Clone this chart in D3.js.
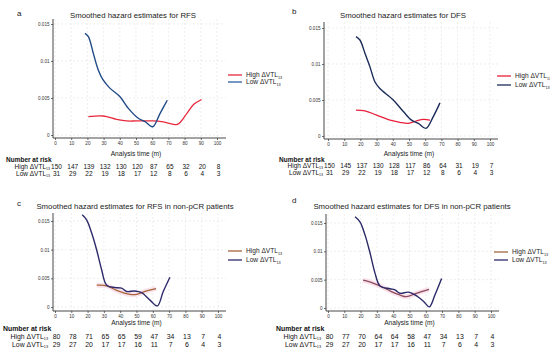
<!DOCTYPE html>
<html>
<head>
<meta charset="utf-8">
<script src="https://cdn.jsdelivr.net/npm/d3@7"></script>
<style>
  body { margin: 0; background: #fff; }
  svg { display: block; font-family: "Liberation Sans", Arial, sans-serif; }
</style>
</head>
<body>
<svg id="chart" width="550" height="352"></svg>
<script>
// tick values shared by all four panels
var xTicks = [0, 10, 20, 30, 40, 50, 60, 70, 80, 90, 100];
var yTicks = [0, 0.005, 0.01, 0.015];
var yTickLabels = ["0", "0.005", "0.01", "0.015"];

// smoothed hazard curves, [time (m), hazard]
var rfsHigh = [[20.6,0.00247],[29.8,0.00257],[38,0.00212],[44.2,0.0019],[50.4,0.0019],[60.7,0.0019],
  [66.9,0.00176],[75.5,0.00144],[81.3,0.0029],[85.4,0.0041],[90.5,0.0048]];
var rfsLow = [[18.5,0.01374],[20.6,0.0133],[23.7,0.011],[26.7,0.0088],[29.8,0.0074],[34,0.0063],
  [40,0.0052],[45.3,0.0036],[51.4,0.00226],[55.6,0.0018],[60.3,0.00112],[64.8,0.0029],[69.3,0.0047]];

var dfsHigh = [[17.3,0.0036],[22.8,0.0035],[30,0.0029],[38.3,0.0022],[44.4,0.0019],[49.6,0.00176],
  [54.7,0.0021],[58.8,0.0023],[63,0.0022]];
var dfsLow = [[17.3,0.0138],[19.8,0.0133],[22.8,0.0115],[25.9,0.0096],[29,0.0075],[32,0.0066],
  [40.3,0.005],[46.5,0.0034],[51.6,0.0022],[55.8,0.00176],[60.5,0.00106],[65,0.0027],[69.1,0.0046]];

var rfsNpHigh = [[25.6,0.0038],[31.7,0.0037],[37.8,0.0029],[46,0.0022],[50.1,0.0022],[56.3,0.0028],[62,0.0032]];
var rfsNpLow = [[16.7,0.0161],[19.4,0.0152],[22.5,0.0129],[25.6,0.0099],[28.6,0.0065],[31.7,0.0038],
  [36.8,0.0034],[40.9,0.0033],[44,0.0027],[49,0.0028],[53.2,0.0025],[58.3,0.0012],[62.8,0.0002],
  [66.4,0.0027],[70.5,0.0052]];

var dfsNpHigh = [[21.5,0.0049],[27.6,0.0044],[32.7,0.0038],[38.9,0.0029],[44,0.0023],[48.1,0.002],
  [54.2,0.0026],[62,0.0033]];
var dfsNpLow = [[16.6,0.0161],[19.6,0.0152],[22.7,0.0129],[25.8,0.0097],[28.8,0.0062],[31.9,0.0039],
  [38,0.0034],[41.1,0.0032],[44.2,0.0026],[49.3,0.0028],[53.4,0.0023],[58.5,0.0012],[62.2,0.0002],
  [65.6,0.0023],[69.7,0.0052]];

// number at risk at each x tick
var rfsRiskHigh = [150,147,139,132,130,120,87,65,32,20,8];
var rfsRiskLow = [31,29,22,19,18,17,12,8,6,4,3];
var dfsRiskHigh = [150,145,137,130,128,117,86,64,31,19,7];
var dfsRiskLow = [31,29,22,19,18,17,12,8,6,4,3];
var rfsNpRiskHigh = [80,78,71,65,65,59,47,34,13,7,4];
var rfsNpRiskLow = [29,27,20,17,17,16,11,7,6,4,3];
var dfsNpRiskHigh = [80,77,70,64,64,58,47,34,13,7,4];
var dfsNpRiskLow = [29,27,20,17,17,16,11,7,6,4,3];

var svg = d3.select("#chart");

var panels = [
  {label: "a", title: "Smoothed hazard estimates for RFS", high: rfsHigh, low: rfsLow,
   riskHigh: rfsRiskHigh, riskLow: rfsRiskLow,
   hiCol: "#e8283c", loCol: "#1f4a86", legLo: "#2d5fa3", band: false,
   xr: [55, 217], yr: [135, 24], left: 53, bottom: 138, right: 226, top: 19,
   labelPos: [17, 16], titleX: 133, titleY: 18, legX: 228, legY: [75, 82],
   axisTitleY: 156, riskY: [162, 168.5, 175.5], riskLabelX: 50, nbX: 6, fs: 6.5},
  {label: "b", title: "Smoothed hazard estimates for DFS", high: dfsHigh, low: dfsLow,
   riskHigh: dfsRiskHigh, riskLow: dfsRiskLow,
   hiCol: "#e8203a", loCol: "#1b2c5a", legLo: "#1b2c5a", band: false,
   xr: [328, 490], yr: [136, 28], left: 324, bottom: 139, right: 498, top: 22,
   labelPos: [292, 14], titleX: 403, titleY: 18, legX: 497, legY: [76, 85],
   axisTitleY: 156, riskY: [161.5, 167.5, 175], riskLabelX: 323, nbX: 279, fs: 6.5},
  {label: "c", title: "Smoothed hazard estimates for RFS in non-pCR patients", high: rfsNpHigh, low: rfsNpLow,
   riskHigh: rfsNpRiskHigh, riskLow: rfsNpRiskLow,
   hiCol: "#a8633a", loCol: "#2e2a6c", legLo: "#2e2a6c", band: true,
   xr: [55, 218], yr: [307, 221], left: 53, bottom: 311, right: 226, top: 213,
   labelPos: [17, 206], titleX: 135, titleY: 209, legX: 228, legY: [251, 260],
   axisTitleY: 325, riskY: [331, 339, 346.5], riskLabelX: 48, nbX: 3, fs: 6.9},
  {label: "d", title: "Smoothed hazard estimates for DFS in non-pCR patients", high: dfsNpHigh, low: dfsNpLow,
   riskHigh: dfsNpRiskHigh, riskLow: dfsNpRiskLow,
   hiCol: "#8e4a5c", loCol: "#2a2a68", legLo: "#2a2a68", legHi: "#a06a40", band: true,
   xr: [328, 491], yr: [308, 223], left: 326, bottom: 311, right: 499, top: 214,
   labelPos: [292, 203], titleX: 412, titleY: 209, legX: 494, legY: [252, 260],
   axisTitleY: 325, riskY: [331, 339, 346.5], riskLabelX: 321, nbX: 276, fs: 6.9}
];

panels.forEach(function(p) {
  var g = svg.append("g");
  var x = d3.scaleLinear().domain([0, 100]).range(p.xr);
  var y = d3.scaleLinear().domain([0, 0.015]).range(p.yr);

  // dashed grid
  g.selectAll(".vgrid").data(xTicks).enter().append("line")
    .attr("x1", function(d){ return x(d); }).attr("x2", function(d){ return x(d); })
    .attr("y1", p.top).attr("y2", p.bottom)
    .style("stroke", "#e2e2e2").style("stroke-width", 0.6).style("stroke-dasharray", "2,2");
  g.selectAll(".hgrid").data(yTicks).enter().append("line")
    .attr("x1", p.left).attr("x2", p.right)
    .attr("y1", function(d){ return y(d); }).attr("y2", function(d){ return y(d); })
    .style("stroke", "#e2e2e2").style("stroke-width", 0.6).style("stroke-dasharray", "2,2");

  // axes
  var xAxis = d3.axisBottom(x).tickValues(xTicks).tickSize(2).tickPadding(1.5);
  var gx = g.append("g").attr("transform", "translate(0," + p.bottom + ")").call(xAxis);
  gx.select(".domain").attr("d", "M" + p.left + ",0H" + p.right);
  var yAxis = d3.axisLeft(y).tickValues(yTicks).tickSize(2).tickPadding(1.5)
    .tickFormat(function(d, i){ return yTickLabels[i]; });
  var gy = g.append("g").attr("transform", "translate(" + p.left + ",0)").call(yAxis);
  gy.select(".domain").attr("d", "M0," + p.bottom + "V" + p.top);
  [gx, gy].forEach(function(a) {
    a.select(".domain").style("stroke", "#333").style("stroke-width", 0.9);
    a.selectAll(".tick line").style("stroke", "#333").style("stroke-width", 0.7);
    a.selectAll(".tick text").style("font-size", "4.6px").style("fill", "#333")
      .style("font-family", "Liberation Sans, Arial, sans-serif");
  });

  // curves
  var line = d3.line().curve(d3.curveCatmullRom.alpha(0.5))
    .x(function(d){ return x(d[0]); }).y(function(d){ return y(d[1]); });
  if (p.band) {
    g.append("path").datum(p.high).attr("d", line)
      .style("fill", "none").style("stroke", "#f8dde9").style("stroke-width", 5).style("opacity", 0.8);
  }
  g.append("path").datum(p.high).attr("d", line)
    .style("fill", "none").style("stroke", p.hiCol).style("stroke-width", 1.3);
  g.append("path").datum(p.low).attr("d", line)
    .style("fill", "none").style("stroke", p.loCol).style("stroke-width", 1.4);

  // panel label and title
  g.append("text").attr("x", p.labelPos[0]).attr("y", p.labelPos[1])
    .style("font-size", "8px").style("fill", "#222").text(p.label);
  g.append("text").attr("x", p.titleX).attr("y", p.titleY).attr("text-anchor", "middle")
    .style("font-size", "7.8px").style("fill", "#222").text(p.title);

  // axis title
  g.append("text").attr("x", (x(0) + x(100)) / 2).attr("y", p.axisTitleY).attr("text-anchor", "middle")
    .style("font-size", "6.6px").style("fill", "#222").text("Analysis time (m)");

  // legend
  var leg = [{name: "High", col: p.legHi || p.hiCol}, {name: "Low", col: p.legLo}];
  leg.forEach(function(l, i) {
    var ly = p.legY[i];
    g.append("line").attr("x1", p.legX).attr("x2", p.legX + 14).attr("y1", ly).attr("y2", ly)
      .style("stroke", l.col).style("stroke-width", 1.3);
    var t = g.append("text").attr("x", p.legX + 18).attr("y", ly + 2.2)
      .style("font-size", "6.6px").style("fill", "#222");
    t.append("tspan").text(l.name + " \u0394VTL");
    t.append("tspan").attr("dy", 1.3).style("font-size", "3.8px").text("13");
  });

  // number at risk table
  g.append("text").attr("x", p.nbX).attr("y", p.riskY[0])
    .style("font-size", p.fs + "px").style("font-weight", "bold")
    .style("fill", "#111").text("Number at risk");
  [["High", p.riskHigh], ["Low", p.riskLow]].forEach(function(r, i) {
    var ry = p.riskY[i + 1];
    var t = g.append("text").attr("x", p.riskLabelX).attr("y", ry).attr("text-anchor", "end")
      .style("font-size", p.fs + "px").style("fill", "#111");
    t.append("tspan").text(r[0] + " \u0394VTL");
    t.append("tspan").attr("dy", 1).style("font-size", (p.fs * 0.55) + "px").text("13");
    g.selectAll(".risk" + i).data(r[1]).enter().append("text")
      .attr("x", function(d, j){ return x(xTicks[j]) + 1.5; }).attr("y", ry)
      .attr("text-anchor", "middle").style("font-size", p.fs + "px").style("fill", "#111")
      .text(function(d){ return d; });
  });
});
</script>
</body>
</html>
